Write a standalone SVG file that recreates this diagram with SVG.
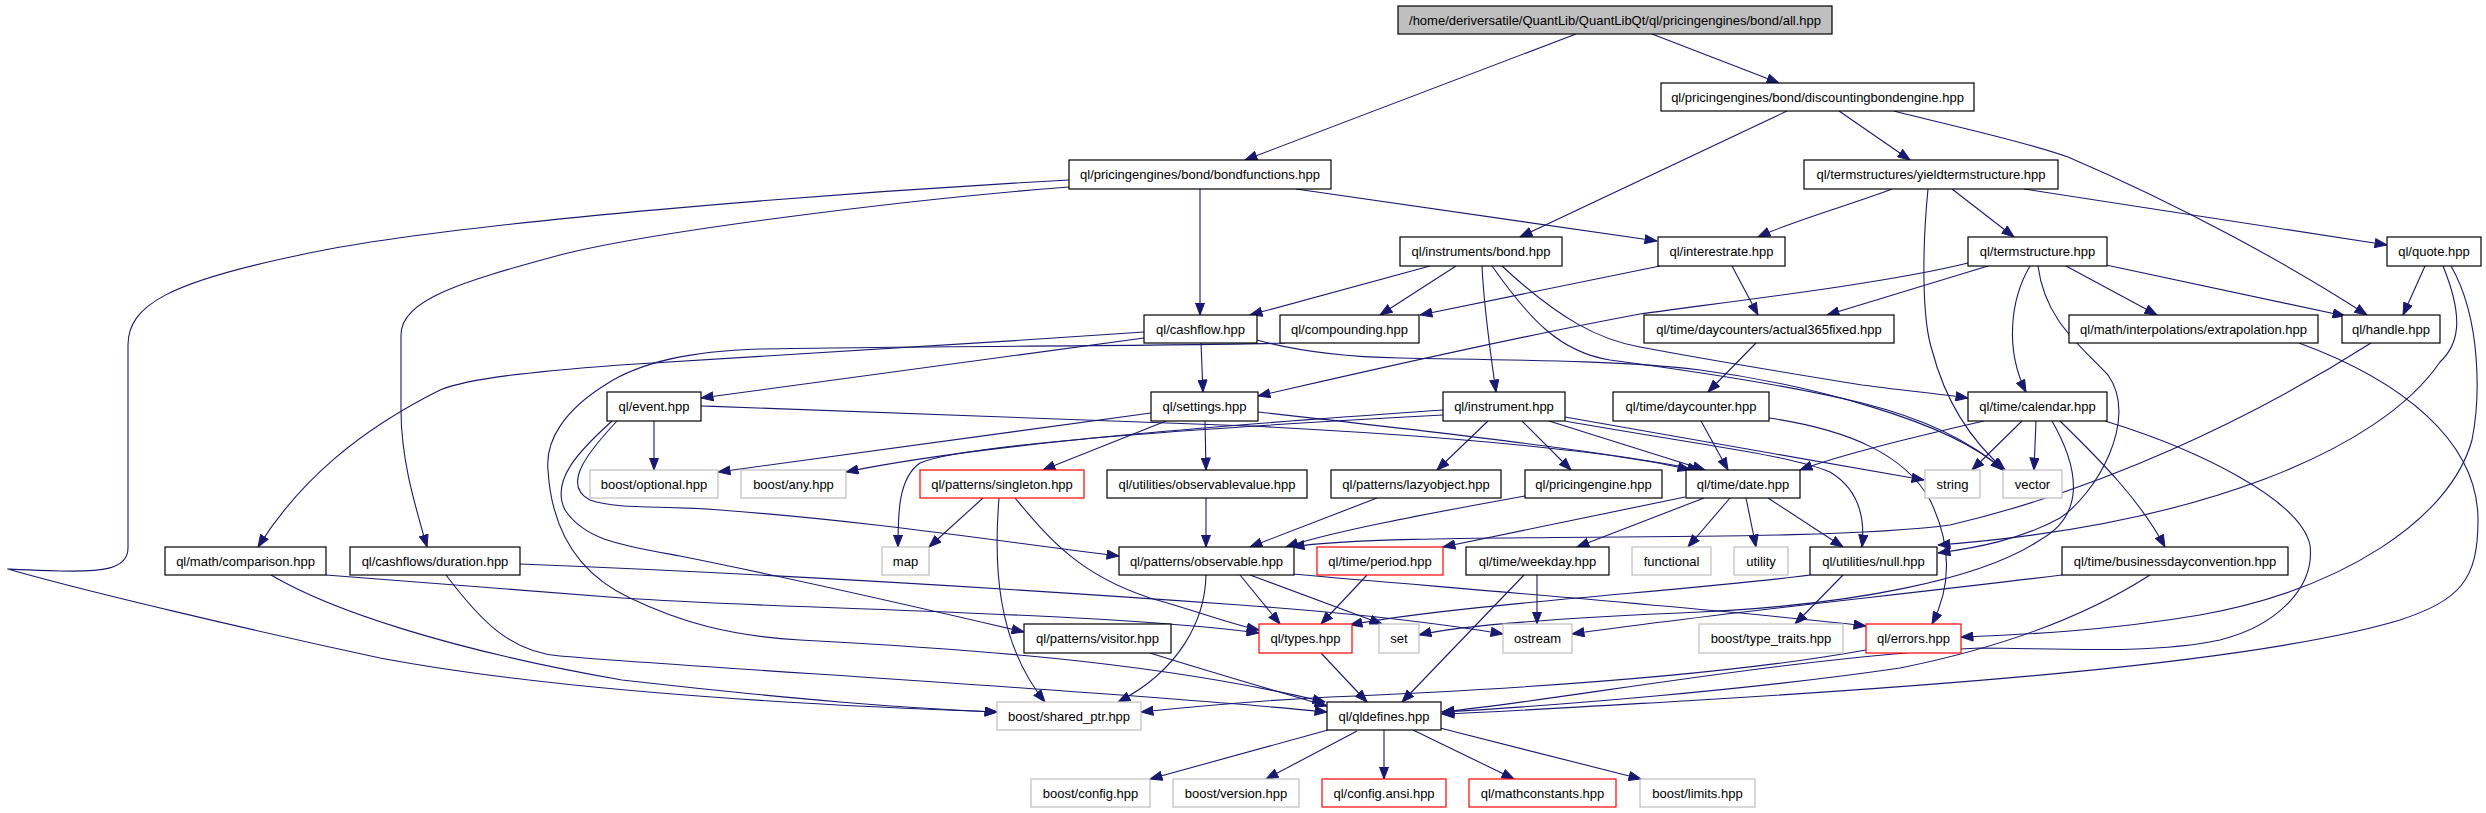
<svg xmlns="http://www.w3.org/2000/svg" width="2486" height="813" viewBox="0 0 2486 813">
<style>
.e path{fill:none;stroke:#191970;stroke-width:1.1;marker-end:url(#a)}
.n rect{fill:#fff;stroke:#000;stroke-width:1.2}
.n.g rect{stroke:#bfbfbf}
.n.r rect{stroke:#ff0000}
.n.root rect{fill:#bfbfbf}
.n text{font-family:"Liberation Sans",Arial,Helvetica,sans-serif;font-size:13px;text-anchor:middle;fill:#000}
</style>
<defs>
<marker id="a" markerWidth="13" markerHeight="10" refX="12.5" refY="5" orient="auto" markerUnits="userSpaceOnUse">
<path d="M0.5,0.5 L12.5,5 L0.5,9.5 z" fill="#191970" stroke="#191970" stroke-width="1"/>
</marker>
</defs>
<rect x="0" y="0" width="2486" height="813" fill="#fff"/>
<g id="edges" class="e">
<path d="M1576,34 L1245,160"/>
<path d="M1652,34 L1779,83"/>
<path d="M1787,111 L1520,237"/>
<path d="M1839,111 L1910,160"/>
<path d="M1894,111 C1960,128 2020,140 2068,157 C2180,205 2290,265 2367,315"/>
<path d="M1296,189 L1657,241"/>
<path d="M1200,189 L1200,315"/>
<path d="M1069,187 C900,200 650,232 560,255 C460,282 401,300 401,335 L401,410 C401,460 415,505 427,547"/>
<path d="M1069,180 C850,192 450,222 300,255 C170,282 128,305 128,345 L128,548 C128,570 100,572 60,571 C25,570 5,569 8,569 C80,590 250,630 380,658 C550,690 800,705 997,712"/>
<path d="M1144,332 C950,345 720,360 620,365 C530,372 470,378 440,390 C360,430 300,480 258,547"/>
<path d="M1144,338 L701,398"/>
<path d="M1201,343 L1203,392"/>
<path d="M1257,340 C1300,352 1350,357 1400,358 C1500,360 1620,360 1700,370 C1800,383 1950,420 2003,470"/>
<path d="M1285,343 C1200,346 900,346 760,349 C690,351 640,362 605,385 C565,410 545,440 548,470 C551,520 570,570 630,598 C680,622 730,636 800,640 C950,648 1150,660 1325,702"/>
<path d="M654,421 L654,470"/>
<path d="M701,406 C900,412 1100,420 1250,426 C1450,436 1620,452 1690,470"/>
<path d="M617,421 C590,450 560,485 590,500 C620,510 660,505 720,510 C880,522 1010,543 1119,556"/>
<path d="M612,421 C580,450 550,480 565,510 C585,540 620,545 680,556 C800,580 930,610 1024,632"/>
<path d="M1151,413 L718,472"/>
<path d="M1166,421 L1043,470"/>
<path d="M1205,421 L1206,470"/>
<path d="M1258,412 C1400,428 1600,450 1700,470"/>
<path d="M1443,410 C1300,420 1000,440 846,472"/>
<path d="M1443,415 C1200,428 960,445 920,463 C898,478 898,515 898,547"/>
<path d="M1488,421 L1437,470"/>
<path d="M1522,421 L1571,470"/>
<path d="M1549,421 L1705,470"/>
<path d="M1565,417 C1700,440 1820,462 1924,480"/>
<path d="M1565,421 C1700,445 1790,455 1830,472 C1860,490 1865,520 1862,547"/>
<path d="M1701,421 L1728,470"/>
<path d="M1769,418 C1850,430 1905,455 1930,500 C1952,545 1952,585 1932,624"/>
<path d="M1984,421 C1900,440 1840,455 1800,470"/>
<path d="M2022,421 L1972,470"/>
<path d="M2036,421 L2034,470"/>
<path d="M2060,421 C2100,460 2140,500 2165,547"/>
<path d="M2052,421 C2080,470 2085,515 2040,540 C1980,580 1850,605 1700,612 C1560,618 1460,625 1419,635"/>
<path d="M2105,421 C2200,450 2300,500 2310,545 C2315,585 2280,625 2220,640 C2150,655 2050,648 1980,648 C1800,656 1560,700 1442,712"/>
<path d="M1968,263 C1880,285 1700,305 1640,314 C1500,340 1350,375 1258,396"/>
<path d="M1988,266 L1827,315"/>
<path d="M2030,266 C2010,300 2005,350 2026,392"/>
<path d="M2038,266 C2045,320 2080,345 2108,375 C2140,420 2095,495 2060,518 C2020,540 1975,548 1938,553"/>
<path d="M2066,266 L2157,315"/>
<path d="M2106,265 L2345,316"/>
<path d="M1952,189 L2014,237"/>
<path d="M2024,189 L2387,245"/>
<path d="M1928,189 C1922,250 1922,320 1932,350 C1945,400 1970,440 2005,470"/>
<path d="M1892,189 C1850,205 1790,222 1758,237"/>
<path d="M1660,266 L1420,315"/>
<path d="M1732,266 L1758,315"/>
<path d="M1430,266 L1250,315"/>
<path d="M1456,266 L1380,315"/>
<path d="M1482,266 C1484,310 1490,350 1496,392"/>
<path d="M1502,266 C1560,320 1600,340 1640,347 C1720,362 1800,375 1862,385 C1900,390 1940,394 1968,398"/>
<path d="M1492,266 C1530,320 1560,352 1610,360 C1700,372 1800,388 1862,403 C1930,420 1975,445 2003,470"/>
<path d="M2371,343 C2250,420 2100,490 1950,525 C1800,545 1400,530 1292,547"/>
<path d="M2425,266 L2403,315"/>
<path d="M2443,266 C2465,320 2458,345 2440,362 C2380,450 2200,525 1938,545"/>
<path d="M2451,266 C2482,320 2480,400 2472,440 C2450,520 2340,590 2200,615 C2100,632 2010,635 1961,637"/>
<path d="M2299,343 C2400,380 2478,440 2478,520 C2478,580 2460,600 2400,620 C2250,665 1900,688 1700,700 C1580,707 1500,712 1442,714"/>
<path d="M2062,575 C1900,595 1700,615 1572,634"/>
<path d="M2150,575 C2080,620 1990,650 1900,668 C1750,690 1550,706 1442,712"/>
<path d="M1866,650 C1700,680 1450,692 1330,697 C1250,701 1180,708 1141,712"/>
<path d="M1240,575 L1280,624"/>
<path d="M1250,575 L1382,624"/>
<path d="M1292,574 C1500,592 1750,612 1866,626"/>
<path d="M1206,575 C1205,620 1180,670 1118,702"/>
<path d="M1206,498 L1206,547"/>
<path d="M1377,498 L1250,547"/>
<path d="M1525,496 C1420,515 1330,532 1286,547"/>
<path d="M1685,497 L1443,547"/>
<path d="M1704,498 L1577,547"/>
<path d="M1730,498 L1688,547"/>
<path d="M1746,498 L1756,547"/>
<path d="M1768,498 L1843,547"/>
<path d="M1367,575 L1321,624"/>
<path d="M1537,575 L1537,624"/>
<path d="M1524,575 L1402,702"/>
<path d="M1810,575 C1700,590 1450,605 1350,625"/>
<path d="M1843,575 L1795,624"/>
<path d="M1321,653 L1367,702"/>
<path d="M983,498 L929,547"/>
<path d="M999,498 C994,560 995,640 1045,702"/>
<path d="M1015,498 C1050,540 1080,575 1150,598 C1200,612 1230,624 1259,630"/>
<path d="M326,575 L622,598 C800,610 1100,612 1259,633"/>
<path d="M271,575 C330,610 450,650 622,680 C800,700 900,708 997,712"/>
<path d="M520,564 C800,575 1100,595 1240,605 C1380,615 1450,625 1503,634"/>
<path d="M446,575 C480,620 510,652 560,656 C700,668 1100,690 1327,712"/>
<path d="M1150,653 C1220,675 1280,692 1327,706"/>
<path d="M1328,730 L1150,779"/>
<path d="M1357,731 L1266,779"/>
<path d="M1384,730 L1384,779"/>
<path d="M1413,730 L1514,779"/>
<path d="M1440,728 L1641,779"/>
<path d="M1756,343 L1708,392"/>
</g>
<g id="n_all" class="n root"><rect x="1398" y="6" width="434" height="28"/><text x="1615" y="24.5">/home/deriversatile/QuantLib/QuantLibQt/ql/pricingengines/bond/all.hpp</text></g>
<g id="n_dbe" class="n"><rect x="1661" y="83" width="313" height="28"/><text x="1817.5" y="101.5">ql/pricingengines/bond/discountingbondengine.hpp</text></g>
<g id="n_bf" class="n"><rect x="1069" y="160" width="262" height="29"/><text x="1200" y="179">ql/pricingengines/bond/bondfunctions.hpp</text></g>
<g id="n_yts" class="n"><rect x="1804" y="160" width="254" height="29"/><text x="1931" y="179">ql/termstructures/yieldtermstructure.hpp</text></g>
<g id="n_bond" class="n"><rect x="1400" y="237" width="162" height="29"/><text x="1481" y="256">ql/instruments/bond.hpp</text></g>
<g id="n_ir" class="n"><rect x="1658" y="237" width="127" height="29"/><text x="1721.5" y="256">ql/interestrate.hpp</text></g>
<g id="n_ts" class="n"><rect x="1968" y="237" width="139" height="29"/><text x="2037.5" y="256">ql/termstructure.hpp</text></g>
<g id="n_quote" class="n"><rect x="2387" y="237" width="94" height="29"/><text x="2434" y="256">ql/quote.hpp</text></g>
<g id="n_cf" class="n"><rect x="1144" y="315" width="113" height="28"/><text x="1200.5" y="333.5">ql/cashflow.hpp</text></g>
<g id="n_comp" class="n"><rect x="1280" y="315" width="139" height="28"/><text x="1349.5" y="333.5">ql/compounding.hpp</text></g>
<g id="n_a365" class="n"><rect x="1644" y="315" width="250" height="28"/><text x="1769" y="333.5">ql/time/daycounters/actual365fixed.hpp</text></g>
<g id="n_extr" class="n"><rect x="2069" y="315" width="249" height="28"/><text x="2193.5" y="333.5">ql/math/interpolations/extrapolation.hpp</text></g>
<g id="n_handle" class="n"><rect x="2342" y="315" width="98" height="28"/><text x="2391" y="333.5">ql/handle.hpp</text></g>
<g id="n_event" class="n"><rect x="607" y="392" width="94" height="29"/><text x="654" y="411">ql/event.hpp</text></g>
<g id="n_settings" class="n"><rect x="1151" y="392" width="107" height="29"/><text x="1204.5" y="411">ql/settings.hpp</text></g>
<g id="n_instr" class="n"><rect x="1443" y="392" width="122" height="29"/><text x="1504" y="411">ql/instrument.hpp</text></g>
<g id="n_dc" class="n"><rect x="1613" y="392" width="156" height="29"/><text x="1691" y="411">ql/time/daycounter.hpp</text></g>
<g id="n_cal" class="n"><rect x="1968" y="392" width="139" height="29"/><text x="2037.5" y="411">ql/time/calendar.hpp</text></g>
<g id="n_opt" class="n g"><rect x="590" y="470" width="128" height="28"/><text x="654" y="488.5">boost/optional.hpp</text></g>
<g id="n_any" class="n g"><rect x="741" y="470" width="105" height="28"/><text x="793.5" y="488.5">boost/any.hpp</text></g>
<g id="n_singleton" class="n r"><rect x="920" y="470" width="164" height="28"/><text x="1002" y="488.5">ql/patterns/singleton.hpp</text></g>
<g id="n_ov" class="n"><rect x="1107" y="470" width="200" height="28"/><text x="1207" y="488.5">ql/utilities/observablevalue.hpp</text></g>
<g id="n_lazy" class="n"><rect x="1331" y="470" width="170" height="28"/><text x="1416" y="488.5">ql/patterns/lazyobject.hpp</text></g>
<g id="n_pe" class="n"><rect x="1525" y="470" width="137" height="28"/><text x="1593.5" y="488.5">ql/pricingengine.hpp</text></g>
<g id="n_date" class="n"><rect x="1686" y="470" width="114" height="28"/><text x="1743" y="488.5">ql/time/date.hpp</text></g>
<g id="n_string" class="n g"><rect x="1925" y="470" width="55" height="28"/><text x="1952.5" y="488.5">string</text></g>
<g id="n_vector" class="n g"><rect x="2003" y="470" width="59" height="28"/><text x="2032.5" y="488.5">vector</text></g>
<g id="n_comparison" class="n"><rect x="165" y="547" width="161" height="28"/><text x="245.5" y="565.5">ql/math/comparison.hpp</text></g>
<g id="n_duration" class="n"><rect x="350" y="547" width="170" height="28"/><text x="435" y="565.5">ql/cashflows/duration.hpp</text></g>
<g id="n_map" class="n g"><rect x="882" y="547" width="47" height="28"/><text x="905.5" y="565.5">map</text></g>
<g id="n_obs" class="n"><rect x="1119" y="547" width="175" height="28"/><text x="1206.5" y="565.5">ql/patterns/observable.hpp</text></g>
<g id="n_period" class="n r"><rect x="1317" y="547" width="126" height="28"/><text x="1380" y="565.5">ql/time/period.hpp</text></g>
<g id="n_weekday" class="n"><rect x="1466" y="547" width="143" height="28"/><text x="1537.5" y="565.5">ql/time/weekday.hpp</text></g>
<g id="n_functional" class="n g"><rect x="1632" y="547" width="79" height="28"/><text x="1671.5" y="565.5">functional</text></g>
<g id="n_utility" class="n g"><rect x="1734" y="547" width="54" height="28"/><text x="1761" y="565.5">utility</text></g>
<g id="n_null" class="n"><rect x="1810" y="547" width="127" height="28"/><text x="1873.5" y="565.5">ql/utilities/null.hpp</text></g>
<g id="n_bdc" class="n"><rect x="2062" y="547" width="226" height="28"/><text x="2175" y="565.5">ql/time/businessdayconvention.hpp</text></g>
<g id="n_visitor" class="n"><rect x="1024" y="624" width="147" height="29"/><text x="1097.5" y="643">ql/patterns/visitor.hpp</text></g>
<g id="n_types" class="n r"><rect x="1259" y="624" width="93" height="29"/><text x="1305.5" y="643">ql/types.hpp</text></g>
<g id="n_set" class="n g"><rect x="1379" y="624" width="40" height="29"/><text x="1399" y="643">set</text></g>
<g id="n_ostream" class="n g"><rect x="1503" y="624" width="69" height="29"/><text x="1537.5" y="643">ostream</text></g>
<g id="n_tt" class="n g"><rect x="1699" y="624" width="144" height="29"/><text x="1771" y="643">boost/type_traits.hpp</text></g>
<g id="n_errors" class="n r"><rect x="1866" y="624" width="95" height="29"/><text x="1913.5" y="643">ql/errors.hpp</text></g>
<g id="n_sp" class="n g"><rect x="997" y="702" width="144" height="28"/><text x="1069" y="720.5">boost/shared_ptr.hpp</text></g>
<g id="n_qld" class="n"><rect x="1327" y="702" width="114" height="28"/><text x="1384" y="720.5">ql/qldefines.hpp</text></g>
<g id="n_config" class="n g"><rect x="1031" y="779" width="119" height="28"/><text x="1090.5" y="797.5">boost/config.hpp</text></g>
<g id="n_version" class="n g"><rect x="1173" y="779" width="126" height="28"/><text x="1236" y="797.5">boost/version.hpp</text></g>
<g id="n_ansi" class="n r"><rect x="1322" y="779" width="124" height="28"/><text x="1384" y="797.5">ql/config.ansi.hpp</text></g>
<g id="n_mathc" class="n r"><rect x="1469" y="779" width="147" height="28"/><text x="1542.5" y="797.5">ql/mathconstants.hpp</text></g>
<g id="n_limits" class="n g"><rect x="1640" y="779" width="115" height="28"/><text x="1697.5" y="797.5">boost/limits.hpp</text></g>
</svg>
